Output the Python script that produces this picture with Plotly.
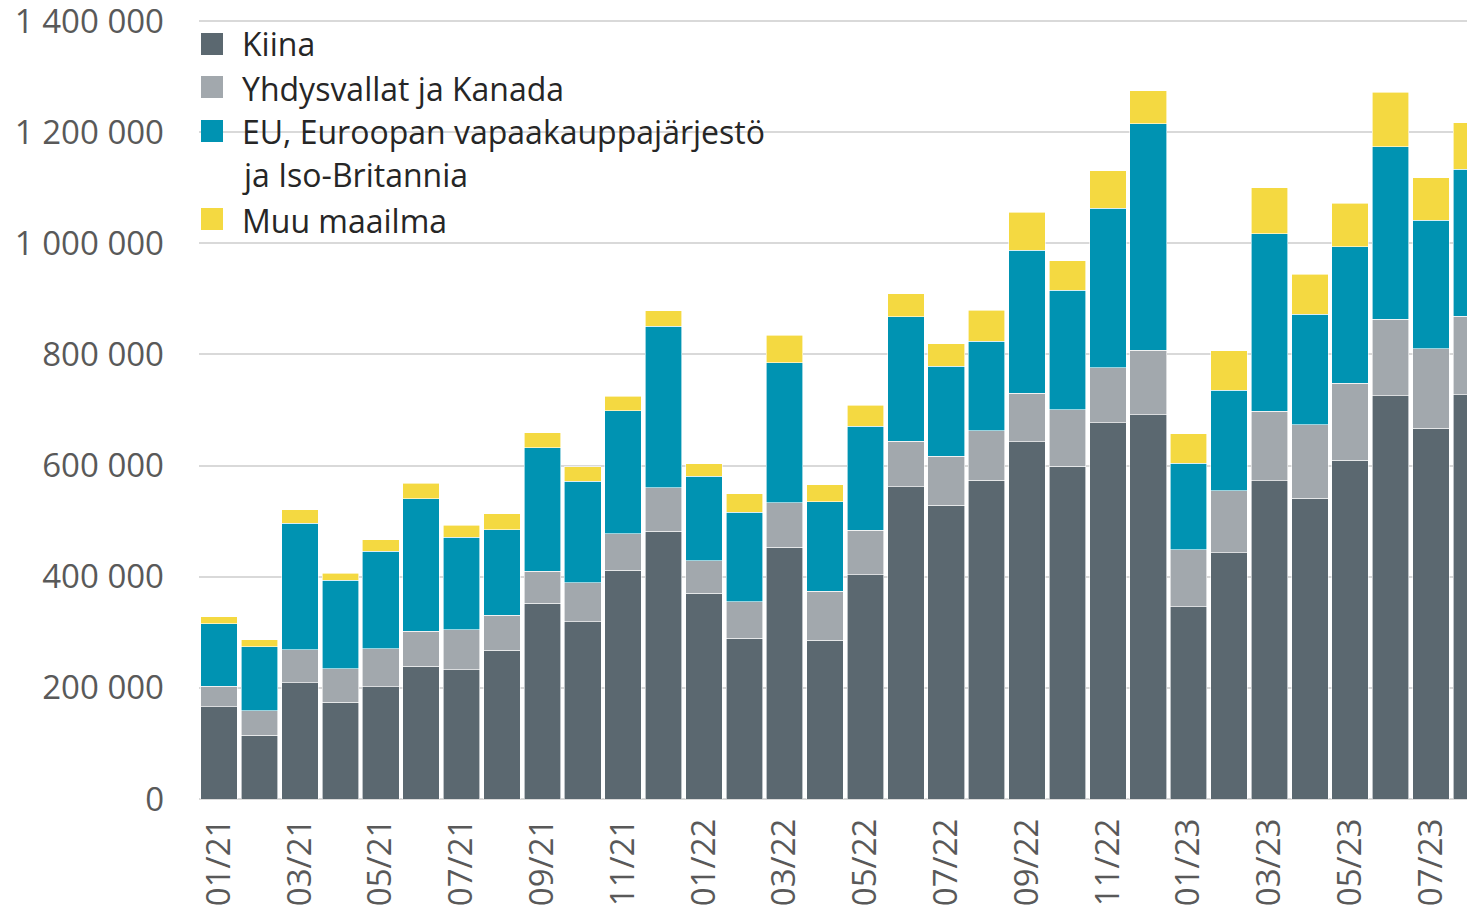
import plotly.graph_objects as go

# ---- data ----
months = ["01/21", "02/21", "03/21", "04/21", "05/21", "06/21", "07/21", "08/21",
          "09/21", "10/21", "11/21", "12/21", "01/22", "02/22", "03/22", "04/22",
          "05/22", "06/22", "07/22", "08/22", "09/22", "10/22", "11/22", "12/22",
          "01/23", "02/23", "03/23", "04/23", "05/23", "06/23", "07/23", "08/23"]

kiina = [166000, 115000, 209000, 174000, 202000, 239000, 233000, 268000,
         352000, 319000, 412000, 482000, 370000, 289000, 453000, 286000,
         404000, 562000, 529000, 574000, 643000, 599000, 677000, 692000,
         346000, 443000, 573000, 541000, 610000, 726000, 667000, 728000]

yhdysvallat = [37000, 44000, 60000, 60000, 68000, 63000, 72000, 63000,
               58000, 70000, 65000, 78000, 59000, 66000, 80000, 88000,
               80000, 82000, 88000, 89000, 87000, 102000, 99000, 116000,
               103000, 112000, 125000, 133000, 138000, 137000, 143000, 141000]

eu = [112000, 115000, 227000, 160000, 176000, 238000, 166000, 154000,
      222000, 183000, 222000, 291000, 152000, 161000, 252000, 161000,
      187000, 224000, 162000, 161000, 258000, 215000, 287000, 407000,
      155000, 181000, 319000, 198000, 246000, 311000, 232000, 264000]

muu = [13000, 13000, 25000, 12000, 21000, 28000, 22000, 28000,
       27000, 26000, 26000, 28000, 22000, 33000, 50000, 31000,
       38000, 41000, 40000, 56000, 68000, 53000, 68000, 60000,
       53000, 71000, 83000, 72000, 78000, 98000, 76000, 84000]

series_names = ["Kiina", "Yhdysvallat ja Kanada",
                "EU, Euroopan vapaakauppajärjestö<br>ja Iso-Britannia", "Muu maailma"]
tick_labels = months[::2]
y_ticks = [0, 200000, 400000, 600000, 800000, 1000000, 1200000, 1400000]

# ---- style ----
colors = ["#5B6870", "#A2A8AD", "#0093B2", "#F4D941"]
FONT = "Open Sans"
TXT = "#595959"
OFF = 8                      # page body margin of the html output
W, H = 1475 - OFF, 914 - OFF
L, R, T, B = 199 - OFF, 0, 20 - OFF, 115

fig = go.Figure()
for name, vals, col in zip(series_names, [kiina, yhdysvallat, eu, muu], colors):
    fig.add_trace(go.Bar(x=months, y=vals, name=name.replace("<br>", " "),
                         marker_color=col,
                         marker_line_color="white", marker_line_width=0.6,
                         showlegend=False))

# legend drawn with shapes + annotations (large square keys like the original)
pw, ph = W - L - R, H - T - B
def px(xp):
    return (xp - OFF - L) / pw
def py(yp):
    return (H - B - (yp - OFF)) / ph

square_y = [44, 87, 131, 219]
text_y = [[44], [88], [131, 175], [220]]
for sy, tys, name, col in zip(square_y, text_y, series_names, colors):
    fig.add_shape(type="rect", xref="paper", yref="paper",
                  x0=px(201), x1=px(223), y0=py(sy + 11), y1=py(sy - 11),
                  fillcolor=col, line_width=0)
    for ty, line in zip(tys, name.split("<br>")):
        fig.add_annotation(xref="paper", yref="paper", x=px(240), y=py(ty),
                           xanchor="left", yanchor="middle", align="left",
                           text=line, showarrow=False,
                           font=dict(family=FONT, size=32, color="#262626"))

fig.update_layout(
    width=W, height=H,
    margin=dict(l=L, r=R, t=T, b=B, autoexpand=False),
    barmode="stack", bargap=0.095,
    plot_bgcolor="white", paper_bgcolor="white",
    separators=", ",
    font=dict(family=FONT, size=33, color=TXT),
)
fig.update_xaxes(type="category", range=[-0.5, 31.09],
                 tickmode="array", tickvals=tick_labels, ticktext=tick_labels,
                 tickangle=-90, ticks="", ticklabelstandoff=12,
                 showgrid=False, showline=False, automargin=False,
                 tickfont=dict(family=FONT, size=33, color=TXT))
fig.update_yaxes(range=[0, 1402000], tickmode="array", tickvals=y_ticks,
                 tickformat=",d", ticklabeloverflow="allow",
                 showgrid=True, gridcolor="#D9D9D9", gridwidth=2,
                 zeroline=True, zerolinecolor="#D9D9D9", zerolinewidth=2,
                 ticks="", ticklabelstandoff=34, automargin=False,
                 tickfont=dict(family=FONT, size=33, color=TXT))

fig.write_html("out.html")
